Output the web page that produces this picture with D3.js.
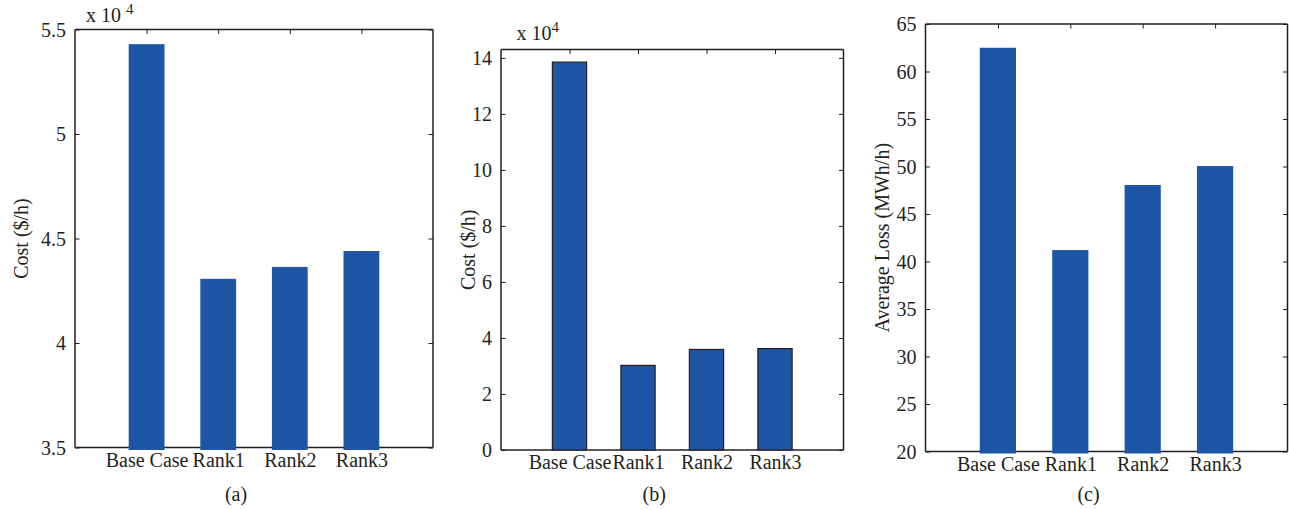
<!DOCTYPE html>
<html>
<head>
<meta charset="utf-8">
<script src="https://cdn.jsdelivr.net/npm/d3@7"></script>
<style>
  html, body { margin: 0; padding: 0; background: #fff; }
  svg text { font-family: "Liberation Serif", "Times New Roman", serif; fill: #231f20; }
</style>
</head>
<body>
<svg id="fig" width="1289" height="510"></svg>
<script>
// Scenario names shared by all three panels
const categories = ["Base Case", "Rank1", "Rank2", "Rank3"];

// (a) generation cost, in units of 10^4 $/h
const costA = [5.43, 4.307, 4.364, 4.44];
const ticksA = [3.5, 4, 4.5, 5, 5.5];

// (b) cost, in units of 10^4 $/h
const costB = [13.85, 3.02, 3.59, 3.62];
const ticksB = [0, 2, 4, 6, 8, 10, 12, 14];

// (c) average loss, MWh/h
const lossC = [62.5, 41.2, 48.05, 50.05];
const ticksC = [20, 25, 30, 35, 40, 45, 50, 55, 60, 65];

const ink = "#231f20";
const barFill = "#1e56a5";
const fontSize = 20;

const panels = [
  { values: costA, ticks: ticksA, domain: [3.5, 5.5], yLabel: "Cost ($/h)", caption: "(a)",
    box: { left: 75, right: 433, top: 29.5, bottom: 447.5 }, yLabelX: 21,
    exponent: { x: 86, y: 22, style: "spaced" }, outline: false, overhang: 2.5 },
  { values: costB, ticks: ticksB, domain: [0, 14.3], yLabel: "Cost ($/h)", caption: "(b)",
    box: { left: 501, right: 843.5, top: 49.5, bottom: 450 }, yLabelX: 468,
    exponent: { x: 516.5, y: 40, style: "super" }, outline: true, overhang: 0 },
  { values: lossC, ticks: ticksC, domain: [20, 65], yLabel: "Average Loss (MWh/h)", caption: "(c)",
    box: { left: 925.5, right: 1287.5, top: 24, bottom: 451.5 }, yLabelX: 882,
    exponent: null, outline: false, overhang: 2 }
];

const svg = d3.select("#fig");

panels.forEach(p => {
  const b = p.box;
  const g = svg.append("g");

  // Category positions 1..4 on an axis running from 0 to 5
  const x = d3.scaleLinear().domain([0, categories.length + 1]).range([b.left, b.right]);
  const y = d3.scaleLinear().domain(p.domain).range([b.bottom, b.top]);
  const barW = x(0.5) - x(0);
  const tickLen = 4.5;

  // Left axis with inward ticks and labels
  const left = g.append("g").attr("transform", `translate(${b.left},0)`)
    .call(d3.axisLeft(y).tickValues(p.ticks).tickSize(-tickLen).tickPadding(9)
      .tickFormat(d3.format("")));
  // Right axis mirrors the ticks, no labels
  const right = g.append("g").attr("transform", `translate(${b.right},0)`)
    .call(d3.axisRight(y).tickValues(p.ticks).tickSize(-tickLen).tickFormat(""));
  // Top axis with ticks at each category
  const top = g.append("g").attr("transform", `translate(0,${b.top})`)
    .call(d3.axisTop(x).tickValues(d3.range(1, categories.length + 1)).tickSize(-tickLen).tickFormat(""));
  // Bottom axis carries the category names
  const bottom = g.append("g").attr("transform", `translate(0,${b.bottom})`)
    .call(d3.axisBottom(x).tickValues(d3.range(1, categories.length + 1)).tickSize(0).tickPadding(5)
      .tickFormat(i => categories[i - 1]));

  [left, right, top, bottom].forEach(a => {
    a.select(".domain").attr("stroke", ink).attr("stroke-width", 1.5);
    a.selectAll(".tick line").attr("stroke", ink).attr("stroke-width", 1);
    a.selectAll("text").attr("font-size", fontSize).attr("fill", ink)
      .style("font-family", '"Liberation Serif", "Times New Roman", serif');
  });
  left.selectAll(".tick text").attr("dy", "0.33em");
  bottom.selectAll(".tick text").attr("dy", "0.71em");
  // The left and right edges join the top and bottom frame lines
  left.select(".domain").attr("d", `M0,${b.bottom}V${b.top}`);
  right.select(".domain").attr("d", `M0,${b.bottom}V${b.top}`);
  top.select(".domain").attr("d", `M${b.left},0H${b.right}`);
  bottom.select(".domain").attr("d", `M${b.left},0H${b.right}`);

  // Bars
  g.append("g").selectAll("rect")
    .data(p.values)
    .join("rect")
    .attr("x", (d, i) => x(i + 1) - barW / 2)
    .attr("width", barW)
    .attr("y", d => y(d))
    .attr("height", d => y(p.domain[0]) - y(d) + p.overhang)
    .attr("fill", barFill)
    .attr("stroke", p.outline ? ink : "none")
    .attr("stroke-width", p.outline ? 1.2 : 0);

  // Y axis title
  g.append("text")
    .attr("transform", `translate(${p.yLabelX},${(b.top + b.bottom) / 2}) rotate(-90)`)
    .attr("text-anchor", "middle")
    .attr("dy", "0.35em")
    .attr("font-size", fontSize)
    .text(p.yLabel);

  // Scale factor note above the axis
  if (p.exponent) {
    const e = p.exponent;
    const t = g.append("text").attr("x", e.x).attr("y", e.y).attr("font-size", fontSize);
    t.append("tspan").text(e.style === "spaced" ? "x 10 " : "x 10");
    t.append("tspan").attr("dy", -8).attr("font-size", 15).text("4");
  }

  // Panel caption
  g.append("text")
    .attr("x", (b.left + b.right) / 2 - 18)
    .attr("y", 501)
    .attr("text-anchor", "middle")
    .attr("font-size", fontSize)
    .text(p.caption);
});
</script>
</body>
</html>
